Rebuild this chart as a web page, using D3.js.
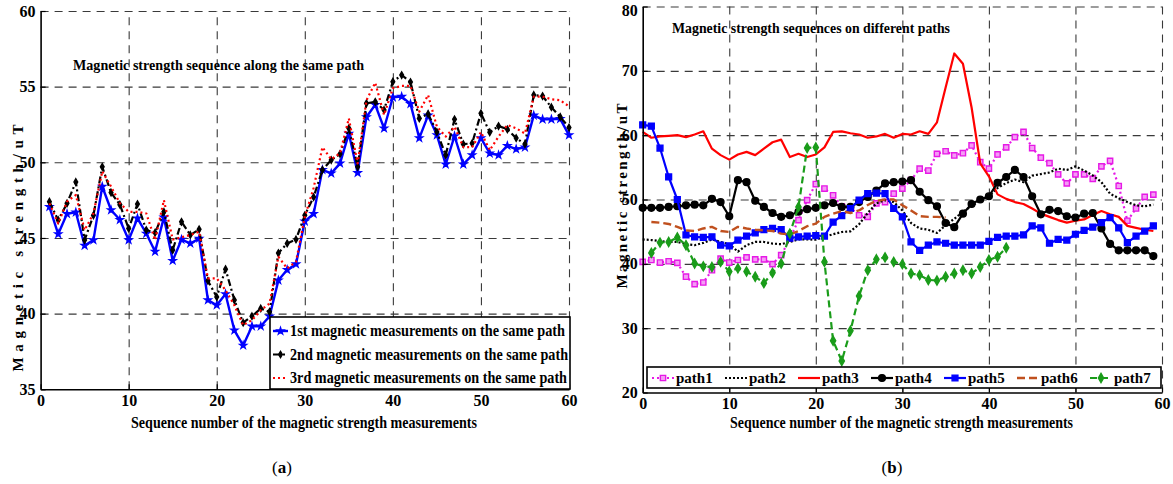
<!DOCTYPE html>
<html>
<head>
<meta charset="utf-8">
<script src="https://cdn.jsdelivr.net/npm/d3@7"></script>
<style>
body { margin: 0; background: #fff; }
text { font-family: "Liberation Serif", "Times New Roman", serif; font-weight: bold; }
</style>
</head>
<body>
<svg id="drawing_region"></svg>
<script>
// ---- data ----
// (a) three runs along the same path, sequence numbers 1..60
const run1 = [47.06,45.26,46.6,46.7,44.5,44.86,48.4,46.85,46.2,44.86,
              46.3,45.3,44.1,46.36,43.5,44.9,44.64,44.97,40.9,40.56,
              41.3,38.9,37.9,39.17,39.17,39.83,42.2,42.9,43.27,46.1,
              46.6,49.5,49.27,49.93,51.9,49.3,53.0,53.8,52.25,54.3,
              54.34,53.86,51.6,53.1,51.8,49.87,51.74,49.87,50.48,51.6,
              50.6,50.48,51.1,50.88,50.99,53.1,52.84,52.84,52.87,51.8];
const run2 = [47.4,46.18,47.29,48.7,44.86,46.5,49.7,48.0,47.2,45.63,
              47.24,45.52,45.35,46.73,44.2,46.07,45.2,45.57,42.17,41.1,
              42.94,40.9,39.4,39.83,40.34,40.12,44.0,44.64,44.9,46.5,
              47.7,49.5,50.15,50.55,52.25,49.7,53.9,54.0,53.46,55.33,
              55.77,55.3,52.9,53.2,52.0,50.48,52.84,51.2,51.26,53.24,
              51.98,52.4,52.18,51.6,51.2,54.45,54.38,53.64,53.0,52.3];
const run3 = [47.29,45.96,47.4,47.84,45.52,46.62,49.4,48.4,47.3,46.73,
              46.73,46.62,44.86,47.5,44.9,45.04,45.2,45.41,42.33,42.33,
              41.55,40.56,39.24,39.57,40.23,40.67,43.76,42.99,43.43,46.4,
              48.3,51.0,50.2,50.6,52.9,49.93,54.1,55.26,53.13,54.9,
              55.05,55.05,53.35,54.45,52.35,51.7,52.35,51.0,51.0,52.0,
              50.8,51.7,52.47,52.25,51.9,54.34,54.34,54.17,54.1,53.7];
const run_names = ["1st magnetic measurements on the same path",
                   "2nd magnetic measurements on the same path",
                   "3rd magnetic measurements on the same path"];

// (b) seven different paths, sequence numbers from 0 (path6, path7 from 1)
const path1 = [40.3,40.6,40.2,40.4,40.15,38.0,36.85,37.1,39.0,40.8,
               40.2,40.6,41.0,40.7,40.7,39.95,41.35,43.9,46.8,49.9,
               52.4,51.7,50.65,48.95,48.75,47.55,47.3,49.4,49.6,50.9,
               51.7,53.0,54.8,54.5,57.1,57.5,56.85,57.2,58.4,55.8,
               54.8,57.0,58.1,59.7,60.5,58.0,56.5,55.65,53.9,52.5,
               53.9,53.9,53.2,55.15,56.0,52.1,46.7,48.6,50.4,50.75];
const path2 = [43.8,43.7,43.55,43.4,43.4,43.05,42.9,43.25,43.8,43.4,
               43.05,41.9,42.9,43.4,43.4,43.15,43.05,43.4,43.8,43.8,
               43.75,44.2,44.6,44.95,45.05,46.15,47.9,49.4,49.9,49.6,
               48.3,46.35,45.5,45.3,44.8,46.0,47.0,48.1,48.95,49.9,
               50.5,51.8,52.55,53.1,52.7,53.7,53.95,54.2,54.8,54.6,
               55.15,54.5,53.75,52.7,50.9,50.2,49.6,49.1,48.95,49.2];
const path3 = [60.5,59.6,59.8,59.9,60.0,59.7,60.1,60.6,57.9,56.9,
               56.2,57.0,57.4,56.9,57.9,58.9,59.3,56.6,57.1,56.6,
               57.0,58.1,60.5,60.6,60.3,60.1,59.6,59.8,60.2,59.6,
               60.2,60.1,60.6,60.2,62.0,67.4,72.7,71.1,64.3,55.6,
               53.6,50.8,50.1,49.6,49.3,48.6,47.8,47.3,46.8,46.4,
               46.7,46.9,47.6,48.2,47.7,47.3,45.9,45.6,45.3,45.1];
const path4 = [48.7,48.7,48.7,48.85,48.95,49.1,49.2,49.1,50.1,49.6,
               47.4,53.0,52.7,49.8,48.85,47.9,47.3,47.55,48.1,48.5,
               48.7,49.1,49.45,48.85,48.85,49.6,50.4,51.4,52.5,52.7,
               52.8,53.0,51.2,49.9,48.95,46.35,45.7,47.8,49.3,50.0,
               50.5,52.6,53.5,54.6,53.5,50.5,47.7,48.4,48.2,47.4,
               47.2,47.8,47.9,45.5,43.1,42.1,42.1,42.1,42.1,41.2];
const path5 = [61.6,61.4,58.0,53.5,50.0,44.5,44.2,44.1,44.2,42.9,
               42.8,43.7,44.3,44.8,45.3,45.5,45.3,44.0,44.2,44.3,
               44.4,44.3,46.5,47.5,48.6,49.9,50.9,51.0,50.9,48.6,
               47.3,43.4,42.1,42.9,43.4,43.2,42.9,42.9,42.9,42.9,
               43.5,44.1,44.3,44.3,44.5,45.9,45.6,43.2,43.8,43.7,
               44.6,45.2,45.7,46.4,47.2,45.6,43.3,44.3,45.1,45.9];
const path6 = [46.5,46.4,46.2,45.75,45.2,45.1,45.5,45.75,45.1,44.95,
               45.75,45.5,45.3,45.2,45.1,44.7,44.6,45.1,45.85,46.25,
               47.3,47.8,48.2,47.9,48.3,49.15,49.8,50.0,50.0,49.1,
               48.3,47.4,47.3,47.3,47.2];
const path7 = [41.7,43.3,43.4,44.1,42.9,40.05,39.6,39.5,40.3,38.8,
               39.3,38.8,38.0,37.0,38.6,40.05,44.7,48.85,58.0,58.1,
               40.3,28.05,24.9,29.6,35.0,39.0,40.7,41.0,40.3,39.95,
               38.5,38.25,37.5,37.4,38.0,38.5,39.0,38.5,39.5,40.6,
               41.1,42.5];
const path_names = ["path1","path2","path3","path4","path5","path6","path7"];

const left_xticks = [0,10,20,30,40,50,60];
const left_yticks = [35,40,45,50,55,60];
const right_xticks = [0,10,20,30,40,50,60];
const right_yticks = [20,30,40,50,60,70,80];

// ---- series styles ----
const left_series = [
    {name: run_names[0], start: 1, values: run1, color: '#0000ff', width: 2.4, dash: null,
     marker: {type: d3.symbolStar, size: 14, fill: '#0000ff', stroke: '#0000ff'}},
    {name: run_names[1], start: 1, values: run2, color: '#000000', width: 2.2, dash: '7,3,2,3',
     marker: {type: d3.symbolDiamond, size: 12, fill: '#000', stroke: '#000'}},
    {name: run_names[2], start: 1, values: run3, color: '#ff0000', width: 2.2, dash: '2,3',
     marker: null}
];

const right_series = [
    {name: path_names[0], start: 0, values: path1, color: '#e619e6', width: 2.2, dash: '2,3',
     marker: {type: d3.symbolSquare, size: 28, fill: '#f49cf4', stroke: '#e619e6'}},
    {name: path_names[1], start: 0, values: path2, color: '#000000', width: 2.2, dash: '2,2',
     marker: null},
    {name: path_names[2], start: 0, values: path3, color: '#ff0000', width: 2.2, dash: null,
     marker: null},
    {name: path_names[3], start: 0, values: path4, color: '#000000', width: 2.2, dash: null,
     marker: {type: d3.symbolCircle, size: 36, fill: '#000', stroke: '#000'}},
    {name: path_names[4], start: 0, values: path5, color: '#0000ff', width: 2.2, dash: null,
     marker: {type: d3.symbolSquare, size: 34, fill: '#0000ff', stroke: '#0000ff'}},
    {name: path_names[5], start: 1, values: path6, color: '#c0501e', width: 2.4, dash: '8,4',
     marker: null},
    {name: path_names[6], start: 1, values: path7, color: '#1a9c1a', width: 2.2, dash: '7,4',
     marker: {type: d3.symbolDiamond, size: 24, fill: '#1a9c1a', stroke: '#1a9c1a'}}
];

const svg = d3.select('#drawing_region')
    .attr('width', 1173)
    .attr('height', 484);

svg.append('rect')
    .attr('width', 1173)
    .attr('height', 484)
    .attr('fill', '#fff');

class LineChart {

    constructor( config, series ){
        this.config = config;
        this.series = series;
        this.init();
    }

    init(){
        let self = this;
        const c = self.config;

        self.g = svg.append('g');

        self.xscale = d3.scaleLinear()
            .domain(c.xdomain)
            .range([c.left, c.left + c.width]);

        self.yscale = d3.scaleLinear()
            .domain(c.ydomain)
            .range([c.top + c.height, c.top]);

        self.line = d3.line()
            .x( d => self.xscale(d.x) )
            .y( d => self.yscale(d.y) );
    }

    render(){
        let self = this;
        const c = self.config;

        // dashed grid
        self.g.append('g')
            .attr('transform', `translate(0, ${c.top + c.height})`)
            .call( d3.axisBottom(self.xscale)
                .tickValues(c.xticks.filter(t => t > c.xdomain[0]))
                .tickSize(-c.height)
                .tickFormat('') )
            .call( g => g.select('.domain').remove() )
            .selectAll('line')
            .attr('stroke', '#3a3a3a')
            .attr('stroke-width', 1.1)
            .attr('stroke-dasharray', '8,6');

        self.g.append('g')
            .attr('transform', `translate(${c.left}, 0)`)
            .call( d3.axisLeft(self.yscale)
                .tickValues(c.yticks.filter(t => t > c.ydomain[0]))
                .tickSize(-c.width)
                .tickFormat('') )
            .call( g => g.select('.domain').remove() )
            .selectAll('line')
            .attr('stroke', '#3a3a3a')
            .attr('stroke-width', 1.1)
            .attr('stroke-dasharray', '8,6');

        // series
        self.series.forEach( s => {
            const pts = s.values.map( (v, i) => ({x: s.start + i, y: v}) );
            self.g.append('path')
                .attr('d', self.line(pts))
                .attr('fill', 'none')
                .attr('stroke', s.color)
                .attr('stroke-width', s.width)
                .attr('stroke-dasharray', s.dash)
                .attr('stroke-linejoin', 'round');
            if( s.marker ){
                self.g.append('g')
                    .selectAll('path')
                    .data(pts)
                    .join('path')
                    .attr('d', d3.symbol().type(s.marker.type).size(s.marker.size))
                    .attr('transform', d => `translate(${self.xscale(d.x)}, ${self.yscale(d.y)})`)
                    .attr('fill', s.marker.fill)
                    .attr('stroke', s.marker.stroke)
                    .attr('stroke-width', 1.4);
            }
        });

        // axes
        const xaxis = self.g.append('g')
            .attr('transform', `translate(0, ${c.top + c.height})`)
            .call( d3.axisBottom(self.xscale)
                .tickValues(c.xticks)
                .tickSizeInner(-5)
                .tickSizeOuter(0)
                .tickPadding(5) );
        const yaxis = self.g.append('g')
            .attr('transform', `translate(${c.left}, 0)`)
            .call( d3.axisLeft(self.yscale)
                .tickValues(c.yticks)
                .tickSizeInner(-5)
                .tickSizeOuter(0)
                .tickPadding(5) );
        [xaxis, yaxis].forEach( a => {
            a.attr('font-family', null).attr('font-size', null);
            a.select('.domain').attr('stroke-width', 1.6);
            a.selectAll('line').attr('stroke-width', 1.2);
            a.selectAll('text').attr('font-size', '16px').attr('fill', '#000');
        });
        // keep the top tick label inside the picture
        yaxis.selectAll('.tick text')
            .filter( d => d === c.ydomain[1] )
            .attr('dy', c.topdy || '0.32em');

        // title and labels
        self.g.append('text')
            .attr('x', c.title.x)
            .attr('y', c.title.y)
            .attr('font-size', '15px')
            .attr('textLength', c.title.w)
            .attr('lengthAdjust', 'spacingAndGlyphs')
            .text(c.title.text);

        self.g.append('text')
            .attr('x', c.xlabel.x)
            .attr('y', c.xlabel.y)
            .attr('font-size', '16px')
            .attr('textLength', c.xlabel.w)
            .attr('lengthAdjust', 'spacingAndGlyphs')
            .text(c.xlabel.text);

        self.g.append('text')
            .attr('transform', `translate(${c.ylabel.x}, ${c.ylabel.y}) rotate(-90)`)
            .attr('text-anchor', 'middle')
            .attr('font-size', '15px')
            .attr('textLength', c.ylabel.w)
            .attr('lengthAdjust', 'spacing')
            .text(c.ylabel.text);

        const cap = self.g.append('text')
            .attr('x', c.caption.x)
            .attr('y', c.caption.y)
            .attr('text-anchor', 'middle')
            .attr('font-size', '17px')
            .style('font-weight', 'normal');
        cap.append('tspan').style('font-weight', 'normal').text('(');
        cap.append('tspan').style('font-weight', 'bold').text(c.caption.text);
        cap.append('tspan').style('font-weight', 'normal').text(')');
    }

    legend( lg ){
        let self = this;
        const box = self.g.append('g');
        box.append('rect')
            .attr('x', lg.x)
            .attr('y', lg.y)
            .attr('width', lg.w)
            .attr('height', lg.h)
            .attr('fill', '#fff')
            .attr('stroke', '#000')
            .attr('stroke-width', 1.6);

        self.series.forEach( (s, i) => {
            const ex = lg.x + lg.x0 + i * lg.dx;
            const ey = lg.y + lg.y0 + i * lg.dy;
            box.append('line')
                .attr('x1', ex)
                .attr('x2', ex + lg.sample)
                .attr('y1', ey)
                .attr('y2', ey)
                .attr('stroke', s.color)
                .attr('stroke-width', s.width)
                .attr('stroke-dasharray', s.dash);
            if( s.marker ){
                box.append('path')
                    .attr('d', d3.symbol().type(s.marker.type).size(s.marker.size))
                    .attr('transform', `translate(${ex + lg.sample / 2}, ${ey})`)
                    .attr('fill', s.marker.fill)
                    .attr('stroke', s.marker.stroke)
                    .attr('stroke-width', 1.4);
            }
            const t = box.append('text')
                .attr('x', ex + lg.sample + 2)
                .attr('y', ey + 5)
                .attr('font-size', lg.fontsize)
                .text(s.name);
            if( lg.widths ){
                t.attr('textLength', lg.widths[i])
                    .attr('lengthAdjust', 'spacingAndGlyphs');
            }
        });
    }
}

const left_chart = new LineChart({
    left: 40.6, top: 11, width: 528.4, height: 378.3,
    xdomain: [0, 60], ydomain: [35, 60],
    xticks: left_xticks, yticks: left_yticks,
    title: {text: 'Magnetic strength sequence along the same path', x: 73, y: 70, w: 291},
    xlabel: {text: 'Sequence number of the magnetic strength measurements', x: 131, y: 428, w: 346},
    ylabel: {text: 'Magnetic strength/uT', x: 23, y: 248, w: 247},
    caption: {text: 'a', x: 282, y: 473}
}, left_series);
left_chart.render();
left_chart.legend({x: 270, y: 317, w: 300, h: 72, x0: 3, y0: 14, dx: 0, dy: 23.5,
                   sample: 15, fontsize: '16px', widths: [275, 278, 277]});

const right_chart = new LineChart({
    left: 642.7, top: 6.5, width: 519.3, height: 386,
    xdomain: [0, 60], ydomain: [20, 80],
    xticks: right_xticks, yticks: right_yticks, topdy: '0.55em',
    title: {text: 'Magnetic strength sequences on different paths', x: 672, y: 33, w: 278},
    xlabel: {text: 'Sequence number of the magnetic strength measurements', x: 730, y: 428, w: 343},
    ylabel: {text: 'Magnetic strength/uT', x: 627, y: 196, w: 185},
    caption: {text: 'b', x: 892, y: 473}
}, right_series);
right_chart.render();
right_chart.legend({x: 647, y: 367, w: 514, h: 21, x0: 5, y0: 11, dx: 73, dy: 0,
                    sample: 22, fontsize: '15px', widths: null});
</script>
</body>
</html>
